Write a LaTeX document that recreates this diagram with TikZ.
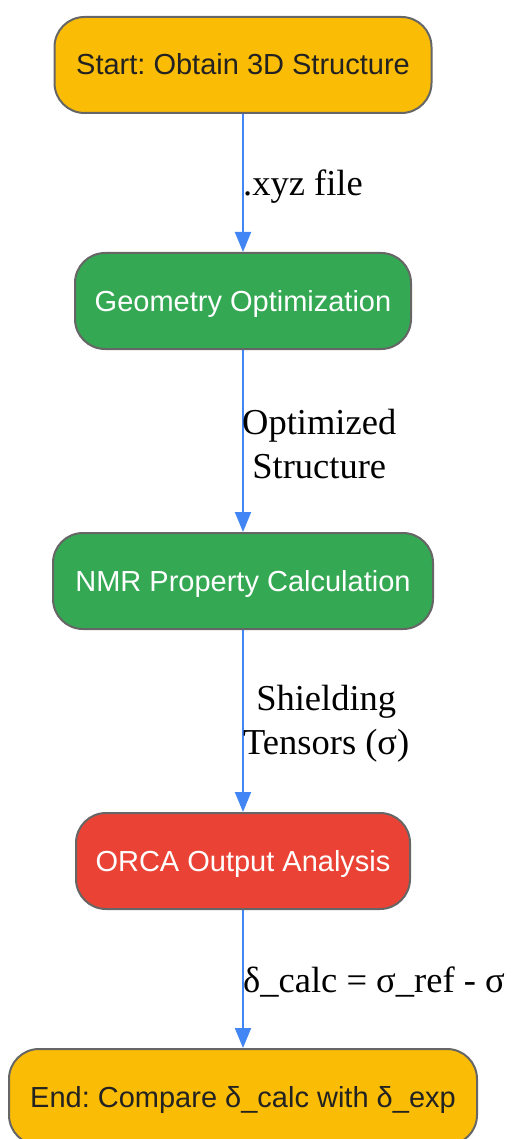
\documentclass[tikz,border=0pt]{standalone}
\usepackage{fontspec}
\setmainfont{Liberation Serif}
\setsansfont{Liberation Sans}
\usepackage{tikz}
\usetikzlibrary{positioning,arrows.meta}
\definecolor{stepyellow}{HTML}{FABC05}
\definecolor{stepgreen}{HTML}{34A853}
\definecolor{stepred}{HTML}{EA4335}
\definecolor{flowblue}{HTML}{4285F4}
\definecolor{edgegray}{HTML}{666666}
\definecolor{inkdark}{HTML}{222222}
\frenchspacing

\tikzset{
  stepbox/.style={draw=edgegray, line width=2pt, rounded corners=30pt, minimum height=96pt,
    font=\sffamily\fontsize{29}{34}\selectfont, inner sep=0pt, text height=22pt, text depth=2pt},
  flow/.style={draw=flowblue, line width=2pt, -{Triangle[length=20pt,width=16pt]}},
  flowlabel/.style={anchor=west, inner sep=0pt, align=center, font=\fontsize{36.5}{44}\selectfont}
}

\begin{document}
\begin{tikzpicture}[x=1pt,y=-1pt]
\useasboundingbox (0,0) rectangle (513,1139);
% Main flow
\node[stepbox, fill=stepyellow, text=inkdark, minimum width=377pt] (start) at (243,65) {Start: Obtain 3D Structure};
\node[stepbox, fill=stepgreen, text=white, minimum width=336pt] (geom) at (243,301) {Geometry Optimization};
\node[stepbox, fill=stepgreen, text=white, minimum width=380pt] (nmr) at (243,581) {NMR Property Calculation};
\node[stepbox, fill=stepred, text=white, minimum width=334pt] (orca) at (243,861) {ORCA Output Analysis};
\node[stepbox, fill=stepyellow, text=inkdark, minimum width=468pt] (finish) at (243,1097) {End: Compare δ\_calc with δ\_exp};

% Connectors
\draw[flow] (start) -- (geom);
\draw[flow] (geom) -- (nmr);
\draw[flow] (nmr) -- (orca);
\draw[flow] (orca) -- (finish);

% Edge labels
\node[flowlabel] (lxyz) at (243,187) {.xyz file};
\node[flowlabel] (lopt) at (242,444) {Optimized\\Structure};
\node[flowlabel] (lshield) at (243,724) {Shielding\\Tensors (σ)};
\node[flowlabel] (ldelta) at (243,982) {δ\_calc = σ\_ref - σ};
\end{tikzpicture}
\end{document}
